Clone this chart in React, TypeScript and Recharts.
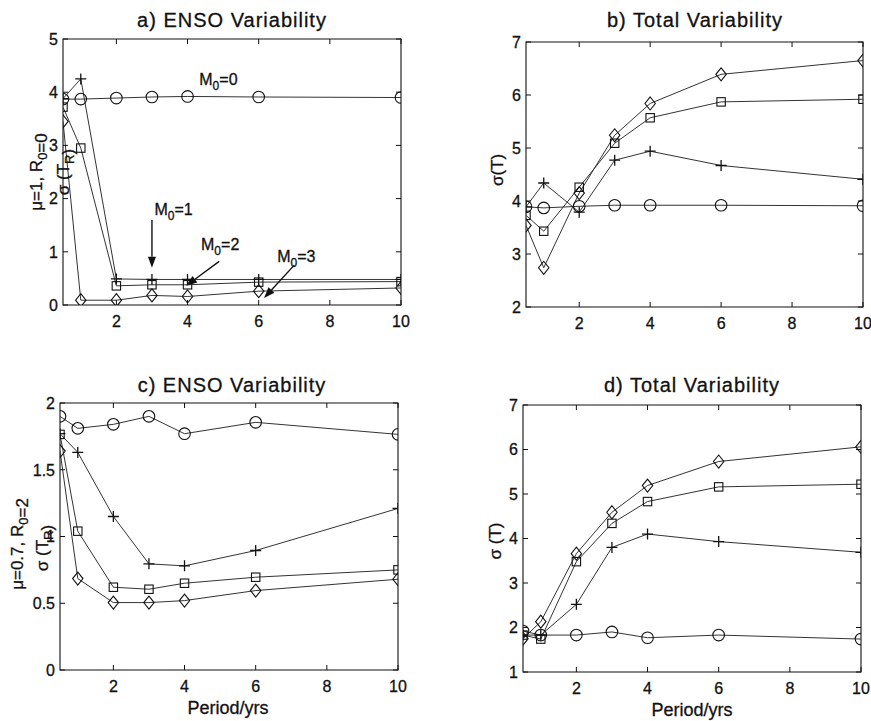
import React from 'react';
import { LineChart, Line, XAxis, YAxis, ReferenceArea, ReferenceLine, ReferenceDot } from 'recharts';

const periods = [0.5, 1, 2, 3, 4, 6, 10];
const xTicks = [2, 4, 6, 8, 10];

// a) ENSO variability, mu=1, R0=0
const ensoA_M0 = [3.87, 3.87, 3.89, 3.91, 3.92, 3.91, 3.9];
const ensoA_M1 = [3.88, 4.25, 0.49, 0.48, 0.48, 0.48, 0.48];
const ensoA_M2 = [3.72, 2.95, 0.36, 0.38, 0.38, 0.43, 0.44];
const ensoA_M3 = [3.45, 0.09, 0.09, 0.18, 0.16, 0.26, 0.32];

// b) total variability, mu=1, R0=0
const totalB_M0 = [3.89, 3.87, 3.9, 3.92, 3.92, 3.92, 3.91];
const totalB_M1 = [3.89, 4.34, 3.79, 4.77, 4.94, 4.67, 4.41];
const totalB_M2 = [3.73, 3.43, 4.26, 5.09, 5.57, 5.87, 5.92];
const totalB_M3 = [3.54, 2.74, 4.15, 5.24, 5.84, 6.39, 6.65];

// c) ENSO variability, mu=0.7, R0=2
const ensoC_M0 = [1.9, 1.81, 1.84, 1.9, 1.77, 1.855, 1.765];
const ensoC_M1 = [1.77, 1.63, 1.15, 0.795, 0.78, 0.895, 1.21];
const ensoC_M2 = [1.765, 1.04, 0.62, 0.605, 0.65, 0.695, 0.75];
const ensoC_M3 = [1.64, 0.685, 0.505, 0.505, 0.52, 0.595, 0.68];

// d) total variability, mu=0.7, R0=2
const totalD_M0 = [1.92, 1.83, 1.83, 1.9, 1.77, 1.83, 1.74];
const totalD_M1 = [1.83, 1.83, 2.52, 3.8, 4.1, 3.93, 3.69];
const totalD_M2 = [1.83, 1.74, 3.48, 4.34, 4.83, 5.16, 5.22];
const totalD_M3 = [1.75, 2.13, 3.66, 4.59, 5.19, 5.73, 6.06];

// M0 annotations in panel a
const notesA = [
  { n: '0', x: 4.33, y: 4.14 },
  { n: '1', x: 3.07, y: 1.7 },
  { n: '2', x: 4.38, y: 1.04 },
  { n: '3', x: 6.52, y: 0.8 },
];
const arrowsA = [
  { x1: 3, y1: 1.6, x2: 3, y2: 0.7 },
  { x1: 4.89, y1: 0.82, x2: 3.96, y2: 0.36 },
  { x1: 7.0, y1: 0.75, x2: 6.15, y2: 0.13 },
];

const INK = '#111';
const LINE = '#333';
const FONT = '"Liberation Sans", Arial, sans-serif';
const Y_W = 40;
const X_H = 30;
const X_MARGIN = 11;
const Y_MARGIN = 5;

const rows = (m0: number[], m1: number[], m2: number[], m3: number[]) =>
  periods.map((p, i) => ({ p, m0: m0[i], m1: m1[i], m2: m2[i], m3: m3[i] }));

function Marker({ cx, cy, kind }: any) {
  if (cx == null || cy == null) return null;
  if (kind === 'circle') return <circle cx={cx} cy={cy} r={5.8} fill="none" stroke={INK} strokeWidth={1.1} />;
  if (kind === 'plus')
    return (
      <path d={`M${cx - 5.5},${cy}H${cx + 5.5}M${cx},${cy - 5.5}V${cy + 5.5}`} stroke={INK} strokeWidth={1.3} fill="none" />
    );
  if (kind === 'square') return <rect x={cx - 4.2} y={cy - 4.2} width={8.4} height={8.4} fill="none" stroke={INK} strokeWidth={1.1} />;
  return (
    <path d={`M${cx},${cy - 6.5}L${cx + 5.2},${cy}L${cx},${cy + 6.5}L${cx - 5.2},${cy}Z`} fill="none" stroke={INK} strokeWidth={1.1} />
  );
}

function XTick({ x, y, payload, plotH }: any) {
  const y0 = y - X_MARGIN;
  return (
    <g>
      <line x1={x} x2={x} y1={y0} y2={y0 - 5} stroke={INK} />
      <line x1={x} x2={x} y1={y0 - plotH} y2={y0 - plotH + 5} stroke={INK} />
      <text x={x} y={y} dy="0.71em" textAnchor="middle" fontSize={16} fontFamily={FONT} fill={INK} stroke={INK} strokeWidth={0.3}>
        {payload.value}
      </text>
    </g>
  );
}

function YTick({ x, y, payload, plotW }: any) {
  const x0 = x + Y_MARGIN;
  return (
    <g>
      <line x1={x0} x2={x0 + 5} y1={y} y2={y} stroke={INK} />
      <line x1={x0 + plotW} x2={x0 + plotW - 5} y1={y} y2={y} stroke={INK} />
      <text x={x} y={y} dy="0.36em" textAnchor="end" fontSize={16} fontFamily={FONT} fill={INK} stroke={INK} strokeWidth={0.3}>
        {payload.value}
      </text>
    </g>
  );
}

function Arrow({ x1, y1, x2, y2 }: any) {
  const ang = Math.atan2(y2 - y1, x2 - x1);
  const L = 11;
  const W = 4;
  const bx = x2 - L * Math.cos(ang);
  const by = y2 - L * Math.sin(ang);
  const px = -Math.sin(ang) * W;
  const py = Math.cos(ang) * W;
  return (
    <g>
      <line x1={x1} y1={y1} x2={bx} y2={by} stroke={INK} strokeWidth={1.4} />
      <polygon points={`${x2},${y2} ${bx + px},${by + py} ${bx - px},${by - py}`} fill={INK} />
    </g>
  );
}

function NoteText({ cx, cy, n }: any) {
  return (
    <text x={cx} y={cy} fontSize={16} fontFamily={FONT} fill={INK} stroke={INK} strokeWidth={0.3}>
      M<tspan dy={5} fontSize={12}>0</tspan>
      <tspan dy={-5}>={n}</tspan>
    </text>
  );
}

const SERIES = [
  { key: 'm0', kind: 'circle' },
  { key: 'm1', kind: 'plus' },
  { key: 'm2', kind: 'square' },
  { key: 'm3', kind: 'diamond' },
];

function Panel({ box, margin, data, yDomain, yTicks, annotate }: any) {
  const plotW = box.w - margin.left - margin.right - Y_W;
  const plotH = box.h - margin.top - margin.bottom - X_H;
  return (
    <div style={{ position: 'absolute', left: box.x, top: box.y }}>
      <LineChart width={box.w} height={box.h} data={data} margin={margin}>
        <XAxis
          dataKey="p"
          type="number"
          domain={[0.5, 10]}
          ticks={xTicks}
          interval={0}
          height={X_H}
          axisLine={false}
          tickLine={false}
          tickSize={0}
          tickMargin={X_MARGIN}
          allowDataOverflow
          tick={(t: any) => <XTick {...t} plotH={plotH} />}
        />
        <YAxis
          type="number"
          domain={yDomain}
          ticks={yTicks}
          interval={0}
          width={Y_W}
          axisLine={false}
          tickLine={false}
          tickSize={0}
          tickMargin={Y_MARGIN}
          allowDataOverflow
          tick={(t: any) => <YTick {...t} plotW={plotW} />}
        />
        <ReferenceArea
          x1={0.5}
          x2={10}
          y1={yDomain[0]}
          y2={yDomain[1]}
          fill="none"
          stroke={INK}
          strokeWidth={1.1}
          ifOverflow="visible"
        />
        {SERIES.map((s) => (
          <Line
            key={s.key}
            dataKey={s.key}
            type="linear"
            stroke={LINE}
            strokeWidth={1}
            isAnimationActive={false}
            dot={(d: any) => <Marker key={`${s.key}-${d.index}`} cx={d.cx} cy={d.cy} kind={s.kind} />}
            activeDot={false}
          />
        ))}
        {annotate &&
          arrowsA.map((a, i) => (
            <ReferenceLine
              key={`arr-${i}`}
              segment={[{ x: a.x1, y: a.y1 }, { x: a.x2, y: a.y2 }]}
              ifOverflow="visible"
              shape={(p: any) => <Arrow {...p} />}
            />
          ))}
        {annotate &&
          notesA.map((n) => (
            <ReferenceDot
              key={`note-${n.n}`}
              x={n.x}
              y={n.y}
              r={0}
              ifOverflow="visible"
              shape={(p: any) => <NoteText cx={p.cx} cy={p.cy} n={n.n} />}
            />
          ))}
      </LineChart>
    </div>
  );
}

function Sub({ children }: any) {
  return (
    <>
      <tspan dy={5} fontSize={13}>{children}</tspan>
      <tspan dy={-5}></tspan>
    </>
  );
}

export default function App() {
  const txt = { fontFamily: FONT, fill: INK, stroke: INK, strokeWidth: 0.3 } as const;
  return (
    <div style={{ position: 'absolute', left: 0, top: 0, width: 871, height: 721, background: '#fff', overflow: 'hidden' }}>
      <Panel
        box={{ x: 0, y: 0, w: 440, h: 340 }}
        margin={{ top: 39, right: 39, bottom: 5, left: 23 }}
        data={rows(ensoA_M0, ensoA_M1, ensoA_M2, ensoA_M3)}
        yDomain={[0, 5]}
        yTicks={[0, 1, 2, 3, 4, 5]}
        annotate
      />
      <Panel
        box={{ x: 440, y: 0, w: 431, h: 340 }}
        margin={{ top: 42, right: 8, bottom: 3, left: 46 }}
        data={rows(totalB_M0, totalB_M1, totalB_M2, totalB_M3)}
        yDomain={[2, 7]}
        yTicks={[2, 3, 4, 5, 6, 7]}
      />
      <Panel
        box={{ x: 0, y: 340, w: 440, h: 381 }}
        margin={{ top: 63, right: 42, bottom: 21, left: 20 }}
        data={rows(ensoC_M0, ensoC_M1, ensoC_M2, ensoC_M3)}
        yDomain={[0, 2]}
        yTicks={[0, 0.5, 1, 1.5, 2]}
      />
      <Panel
        box={{ x: 440, y: 340, w: 431, h: 381 }}
        margin={{ top: 65, right: 10, bottom: 19, left: 43 }}
        data={rows(totalD_M0, totalD_M1, totalD_M2, totalD_M3)}
        yDomain={[1, 7]}
        yTicks={[1, 2, 3, 4, 5, 6, 7]}
      />
      <svg width={871} height={721} style={{ position: 'absolute', left: 0, top: 0, pointerEvents: 'none' }}>
        <text x={232} y={27} textAnchor="middle" fontSize={20} letterSpacing={1} {...txt}>a) ENSO Variability</text>
        <text x={695} y={27} textAnchor="middle" fontSize={20} letterSpacing={1} {...txt}>b) Total Variability</text>
        <text x={232} y={392} textAnchor="middle" fontSize={20} letterSpacing={1} {...txt}>c) ENSO Variability</text>
        <text x={692} y={392} textAnchor="middle" fontSize={20} letterSpacing={1} {...txt}>d) Total Variability</text>

        <text x={228} y={714} textAnchor="middle" fontSize={18} {...txt}>Period/yrs</text>
        <text x={692} y={716} textAnchor="middle" fontSize={18} {...txt}>Period/yrs</text>

        <text transform="translate(42,172) rotate(-90)" textAnchor="middle" fontSize={17} {...txt}>
          μ=1, R<Sub>0</Sub>=0
        </text>
        <text transform="translate(69,172) rotate(-90)" textAnchor="middle" fontSize={17} {...txt}>
          σ (T<Sub>R</Sub>)
        </text>
        <text transform="translate(503,170) rotate(-90)" textAnchor="middle" fontSize={17} {...txt}>σ(T)</text>

        <text transform="translate(23,544) rotate(-90)" textAnchor="middle" fontSize={17} {...txt}>
          μ=0.7, R<Sub>0</Sub>=2
        </text>
        <text transform="translate(48,548) rotate(-90)" textAnchor="middle" fontSize={17} {...txt}>
          σ (T<Sub>R</Sub>)
        </text>
        <text transform="translate(501,541) rotate(-90)" textAnchor="middle" fontSize={17} {...txt}>σ (T)</text>
      </svg>
    </div>
  );
}
